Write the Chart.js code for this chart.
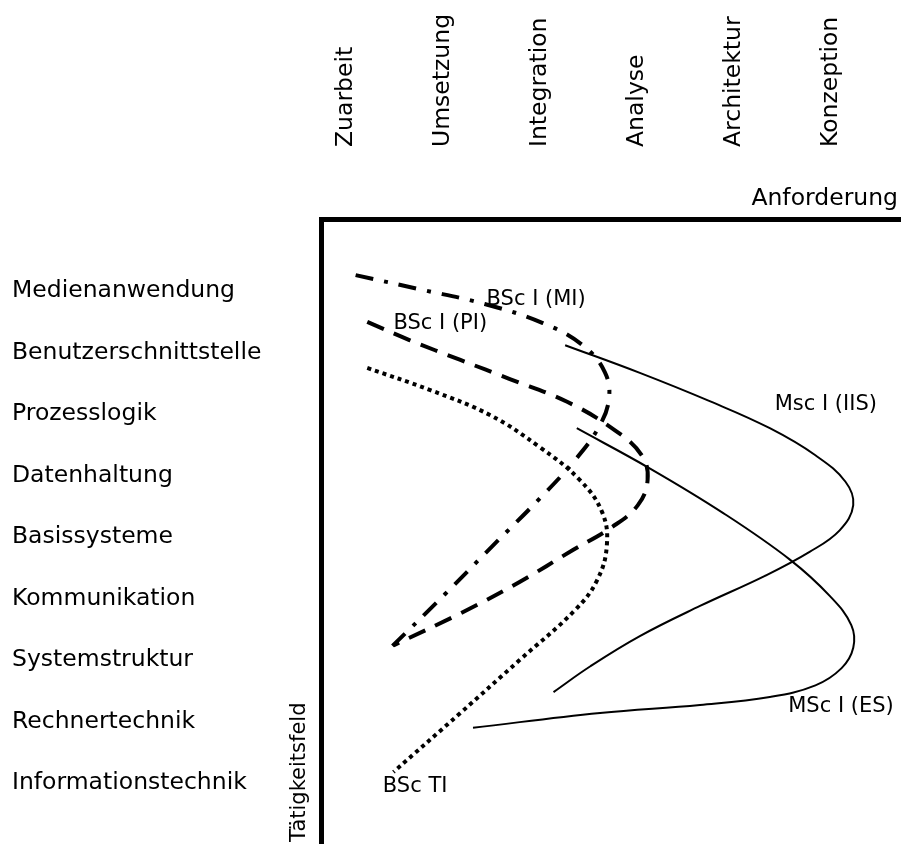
<!DOCTYPE html>
<html>
<head>
<meta charset="utf-8">
<style>
  html, body { margin: 0; padding: 0; background: #fff; }
  canvas { display: block; }
</style>
</head>
<body>
<canvas id="kompetenz" width="901" height="853"></canvas>

<script src="https://cdn.jsdelivr.net/npm/chart.js@4/dist/chart.umd.min.js"></script>
<script>
/* achsen-kategorien */
var anforderung = ['Zuarbeit', 'Umsetzung', 'Integration', 'Analyse', 'Architektur', 'Konzeption'];
var taetigkeitsfeld = ['Medienanwendung', 'Benutzerschnittstelle', 'Prozesslogik', 'Datenhaltung',
    'Basissysteme', 'Kommunikation', 'Systemstruktur', 'Rechnertechnik', 'Informationstechnik'];

/* kurven: x = Anforderung, y = Tätigkeitsfeld */
var bscMI = [[0.12,-0.21],[0.78,0.02],[1.45,0.26],[2.05,0.57],[2.46,0.93],[2.69,1.37],[2.73,1.82],[2.62,2.28],
    [2.38,2.80],[2.02,3.42],[1.54,4.18],[1.04,4.98],[0.50,5.82]];
var bscPI = [[0.24,0.55],[0.68,0.85],[1.20,1.17],[1.71,1.48],[2.30,1.85],[2.79,2.31],[3.07,2.72],[3.13,3.12],
    [3.03,3.53],[2.76,3.89],[2.36,4.26],[1.81,4.78],[1.20,5.29],[0.51,5.81]];
var bscTI = [[0.24,1.30],[0.89,1.66],[1.51,2.07],[2.02,2.59],[2.43,3.12],[2.66,3.64],[2.71,4.18],[2.61,4.75],
    [2.38,5.24],[1.81,6.05],[1.20,6.91],[0.51,7.87]];
var mscIIS = [[2.28,0.93],[3.05,1.38],[3.77,1.84],[4.39,2.28],[4.86,2.72],[5.17,3.15],[5.25,3.53],[5.11,3.94],
    [4.80,4.29],[4.34,4.68],[3.67,5.17],[3.05,5.66],[2.54,6.15],[2.16,6.57]];
var mscES = [[2.40,2.28],[3.16,2.94],[3.91,3.66],[4.60,4.42],[5.01,5.01],[5.23,5.48],[5.25,5.85],[5.13,6.18],
    [4.86,6.46],[4.39,6.65],[3.67,6.78],[2.64,6.91],[1.33,7.15]];

/* beschriftungen der kurven */
var kurvenNamen = ['BSc I (MI)', 'BSc I (PI)', 'Msc I (IIS)', 'MSc I (ES)', 'BSc TI'];
var namenOrt = [[1.47,0.28],[0.51,0.67],[4.44,1.98],[4.58,6.89],[0.40,8.20]];

function pts(arr) {
    return arr.map(function (p) { return {x: p[0], y: p[1]}; });
}

var schrift = '"DejaVu Sans", sans-serif';

var beschriftung = {
    id: 'beschriftung',
    afterDraw: function (chart) {
        var ctx = chart.ctx, sx = chart.scales.x, sy = chart.scales.y;
        ctx.save();
        ctx.fillStyle = '#000';
        ctx.textBaseline = 'alphabetic';
        ctx.font = '21px ' + schrift;
        ctx.textAlign = 'left';
        kurvenNamen.forEach(function (name, i) {
            ctx.fillText(name, sx.getPixelForValue(namenOrt[i][0]), sy.getPixelForValue(namenOrt[i][1]));
        });
        // achsentitel
        ctx.font = '23.5px ' + schrift;
        ctx.textAlign = 'right';
        ctx.fillText('Anforderung', 898, 205);
        ctx.font = '21px ' + schrift;
        ctx.translate(305, 842);
        ctx.rotate(-Math.PI / 2);
        ctx.textAlign = 'left';
        ctx.fillText('Tätigkeitsfeld', 0, 0);
        ctx.restore();
    }
};

var ctx = document.getElementById('kompetenz');
var chart = new Chart(ctx, {
    type: 'scatter',
    data: {
        datasets: [{
            label: kurvenNamen[0], data: pts(bscMI),
            borderColor: '#000', borderWidth: 4, borderDash: [18, 11, 4, 11]
        }, {
            label: kurvenNamen[1], data: pts(bscPI),
            borderColor: '#000', borderWidth: 4, borderDash: [18, 11]
        }, {
            label: kurvenNamen[4], data: pts(bscTI),
            borderColor: '#000', borderWidth: 4, borderDash: [4, 4]
        }, {
            label: kurvenNamen[2], data: pts(mscIIS),
            borderColor: '#000', borderWidth: 2
        }, {
            label: kurvenNamen[3], data: pts(mscES),
            borderColor: '#000', borderWidth: 2
        }]
    },
    options: {
        responsive: false,
        animation: false,
        showLine: true,
        datasets: { scatter: { showLine: true, tension: 0.4, pointRadius: 0, fill: false } },
        layout: { padding: { left: 12, right: 1, top: 0, bottom: 10 } },
        plugins: { legend: { display: false }, tooltip: { enabled: false } },
        scales: {
            x: {
                type: 'linear', position: 'top',
                min: -0.237, max: 5.732,
                grid: { display: false, drawTicks: false },
                border: { display: true, width: 5, color: '#000' },
                afterBuildTicks: function (s) { s.ticks = anforderung.map(function (_, i) { return {value: i}; }); },
                afterFit: function (s) { s.height = 219; s.paddingLeft = 0; s.paddingRight = 0; },
                ticks: {
                    autoSkip: false, minRotation: 90, maxRotation: 90, padding: 72, labelOffset: 30,
                    color: '#000', font: { family: schrift, size: 23.5 },
                    callback: function (v) { return anforderung[v]; }
                }
            },
            y: {
                type: 'linear', position: 'left', reverse: true,
                min: -1.122, max: 9.024,
                grid: { display: false, drawTicks: false },
                border: { display: true, width: 5, color: '#000' },
                afterBuildTicks: function (s) { s.ticks = taetigkeitsfeld.map(function (_, i) { return {value: i}; }); },
                afterFit: function (s) { s.width = 309; s.paddingTop = 0; s.paddingBottom = 0; },
                ticks: {
                    autoSkip: false, crossAlign: 'far', labelOffset: 3,
                    color: '#000', font: { family: schrift, size: 23.5 },
                    callback: function (v) { return taetigkeitsfeld[v]; }
                }
            }
        }
    },
    plugins: [beschriftung]
});
</script>
</body>
</html>
